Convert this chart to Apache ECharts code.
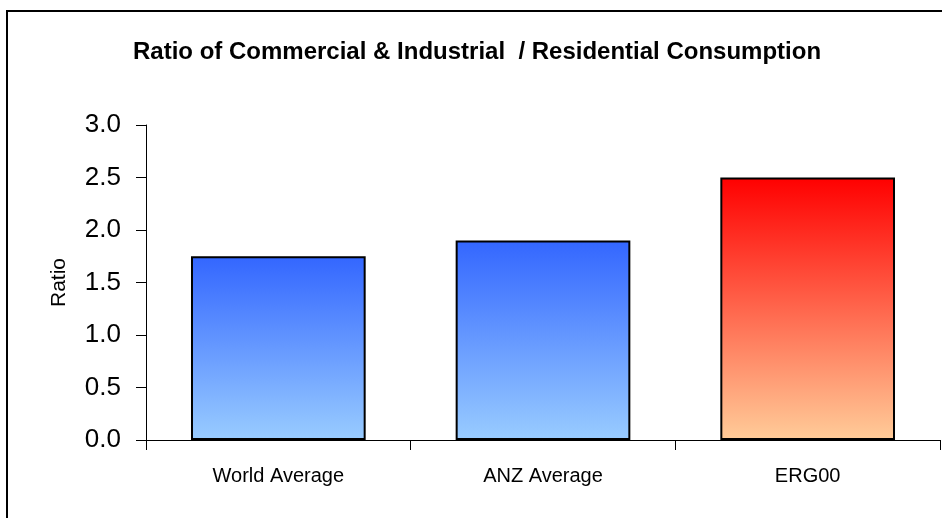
<!DOCTYPE html>
<html>
<head>
<meta charset="utf-8">
<script src="https://cdn.jsdelivr.net/npm/echarts@6/dist/echarts.min.js"></script>
<style>
  html, body { margin: 0; padding: 0; background: #fff; }
  #chart { width: 942px; height: 518px; }
</style>
</head>
<body>
<div id="chart"></div>
<script>
// Chart data
const categories = ['World Average', 'ANZ Average', 'ERG00'];
const ratios = [1.75, 1.9, 2.5];
const yTicks = [0, 0.5, 1.0, 1.5, 2.0, 2.5, 3.0];

// Fill gradients (top colour, bottom colour) per bar
const barGradients = [
  ['#3366FF', '#99CCFF'],
  ['#3366FF', '#99CCFF'],
  ['#FF0000', '#FFCC99']
];

const labelFont = "'Liberation Sans', Arial, sans-serif";

const chart = echarts.init(document.getElementById('chart'), null, { renderer: 'canvas' });

const seriesData = ratios.map((v, i) => ({
  value: v,
  itemStyle: {
    color: new echarts.graphic.LinearGradient(0, 0, 0, 1, [
      { offset: 0, color: barGradients[i][0] },
      { offset: 1, color: barGradients[i][1] }
    ]),
    borderColor: '#000',
    borderWidth: 2
  }
}));

chart.setOption({
  animation: false,
  backgroundColor: '#fff',
  title: {
    text: 'Ratio of Commercial & Industrial  / Residential Consumption',
    left: 128,
    top: 35,
    textStyle: {
      fontFamily: labelFont,
      fontWeight: 'bold',
      fontSize: 24,
      color: '#000'
    }
  },
  graphic: [{
    type: 'rect',
    silent: true,
    shape: { x: 7, y: 11, width: 1000, height: 1000 },
    style: { fill: 'none', stroke: '#000', lineWidth: 2 }
  }],
  grid: { left: 146, top: 125, right: 2, bottom: 78 },
  xAxis: {
    type: 'category',
    data: categories,
    axisLine: { lineStyle: { color: '#000', width: 1 } },
    axisTick: { show: true, length: 10, lineStyle: { color: '#000' } },
    axisLabel: {
      margin: 26,
      fontFamily: labelFont,
      fontSize: 20,
      color: '#000'
    }
  },
  yAxis: {
    type: 'value',
    min: yTicks[0],
    max: yTicks[yTicks.length - 1],
    interval: 0.5,
    name: 'Ratio',
    nameLocation: 'middle',
    nameRotate: 90,
    nameGap: 76,
    nameTextStyle: { fontFamily: labelFont, fontSize: 21, color: '#000' },
    axisLine: { show: true, lineStyle: { color: '#000', width: 1 } },
    axisTick: { show: true, length: 10, lineStyle: { color: '#000' } },
    splitLine: { show: false },
    axisLabel: {
      margin: 25,
      fontFamily: labelFont,
      fontSize: 26,
      color: '#000',
      formatter: v => v.toFixed(1)
    }
  },
  series: [{
    type: 'bar',
    data: seriesData,
    barWidth: '66%'
  }]
});
</script>
</body>
</html>
